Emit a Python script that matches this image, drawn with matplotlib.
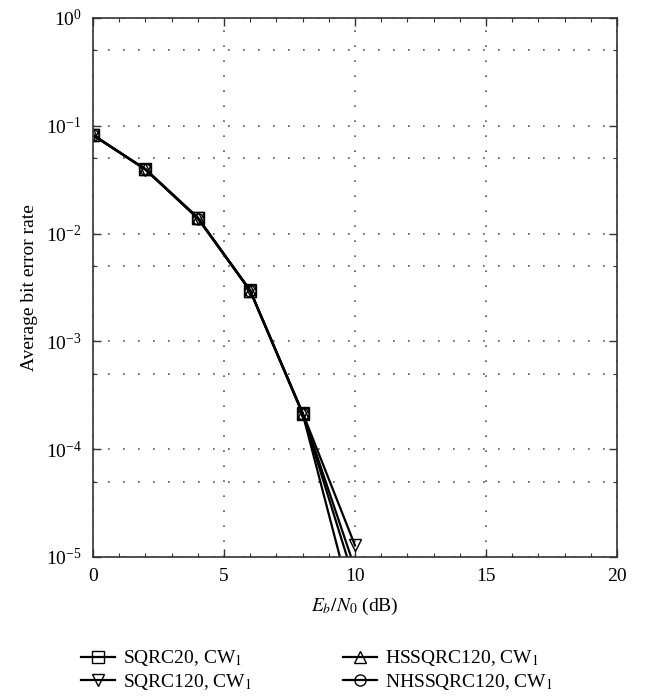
import matplotlib
matplotlib.use("Agg")
import matplotlib.pyplot as plt
from matplotlib.ticker import LogLocator, MultipleLocator, NullFormatter

plt.rcParams['font.family'] = ['Liberation Serif', 'DejaVu Serif']
plt.rcParams['mathtext.fontset'] = 'stix'

# Eb/N0 (dB) and BER for each scheme
snr_db = [0, 2, 4, 6, 8, 10]
ber_sqrc20 = [0.082, 0.0395, 0.0139, 0.00295, 0.000214, 2.9e-6]
ber_sqrc120 = [0.083, 0.0392, 0.0140, 0.00298, 0.000218, 1.28e-5]
ber_hssqrc120 = [0.082, 0.0398, 0.0141, 0.00296, 0.000216, 7.8e-6]
ber_nhssqrc120 = [0.0815, 0.0394, 0.0138, 0.00293, 0.000212, 5.8e-6]

labels = ['SQRC20, CW$_1$', 'SQRC120, CW$_1$',
          'HSSQRC120, CW$_1$', 'NHSSQRC120, CW$_1$']
markers = ['s', 'v', '^', 'o']
series = [ber_sqrc20, ber_sqrc120, ber_hssqrc120, ber_nhssqrc120]

fig = plt.figure(figsize=(6.47, 7.0), dpi=100)
ax = fig.add_axes([0.1437, 0.2043, 0.81, 0.770])

for ber, mk, lab in zip(series, markers, labels):
    ax.semilogy(snr_db, ber, color='black', linewidth=1.6, marker=mk,
                markersize=8, markerfacecolor='none', markeredgecolor='black',
                markeredgewidth=1.0, label=lab)

ax.set_xlim(0, 20)
ax.set_ylim(1e-5, 1e0)
ax.xaxis.set_major_locator(MultipleLocator(5))
ax.xaxis.set_minor_locator(MultipleLocator(1))
ax.yaxis.set_major_locator(LogLocator(base=10, numticks=10))
ax.yaxis.set_minor_locator(LogLocator(base=10, subs=[5], numticks=10))
ax.yaxis.set_minor_formatter(NullFormatter())

ax.tick_params(which='both', direction='in', top=True, right=True,
               labelsize=14, color='#333333')
ax.tick_params(which='major', length=6, width=1.0, pad=8)
ax.tick_params(which='minor', length=3, width=0.8)

# sparse dotted grid
dots = (0, (1, 8))
ax.grid(True, which='major', linestyle=dots, color='#555555', linewidth=1.2)
ax.grid(True, which='minor', axis='y', linestyle=dots, color='#555555',
        linewidth=1.2)
for s in ax.spines.values():
    s.set_linewidth(1.2)
    s.set_color('#333333')

ax.set_xlabel('$E_b/N_0$ (dB)', fontsize=14, labelpad=8)
ax.set_ylabel('Average bit error rate', fontsize=14, labelpad=6)

handles, labs = ax.get_legend_handles_labels()
fig.legend(handles, labs, loc='lower center', bbox_to_anchor=(0.49, -0.014),
           ncol=2, frameon=False, fontsize=14, handlelength=1.75,
           columnspacing=4.7, handletextpad=0.4, labelspacing=0.2)

fig.savefig('out.png', dpi=100)
